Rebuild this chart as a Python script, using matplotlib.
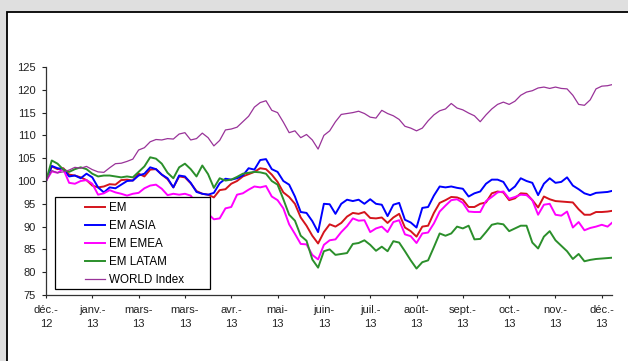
import matplotlib

matplotlib.use("Agg")
import matplotlib.pyplot as plt
import numpy as np
from matplotlib.patches import Rectangle

plt.rcParams["font.family"] = ["Liberation Sans", "DejaVu Sans"]

# month tick labels (category axis, one tick every ~22 trading days)
month_labels = ["déc.-\n12", "janv.-\n13", "mars-\n13", "mars-\n13", "avr.-\n13",
                "mai-\n13", "juin-\n13", "juil.-\n13", "août-\n13", "sept.-\n13",
                "oct.-\n13", "nov.-\n13", "déc.-\n13"]

# index levels, base 100, sampled every 1/8 of a tick interval
em = [100, 103.2, 102.6, 102.8, 101.4, 101.2, 100.8, 100.2, 99.0, 98.6,
      98.8, 99.3, 99.2, 100.2, 100.3, 100.1, 101.6, 101.0, 102.5, 102.6,
      101.4, 100.4, 98.6, 101.0, 100.8, 99.5, 97.8, 97.2, 97.0, 96.4,
      98.0, 98.2, 99.4, 100.0, 101.0, 101.5, 102.0, 102.8, 102.6, 101.4,
      99.8, 97.5, 96.5, 95.0, 92.0, 90.2, 88.0, 86.3, 88.8, 90.5,
      90.0, 90.8, 92.2, 93.0, 92.8, 93.2, 91.9, 91.8, 92.0, 90.8,
      92.0, 92.8, 89.8, 89.0, 87.8, 90.0, 90.2, 93.0, 95.2, 95.8,
      96.5, 96.4, 95.9, 94.3, 94.3, 95.0, 95.3, 97.3, 97.7, 97.5,
      95.8, 96.2, 97.3, 97.2, 95.8, 94.2, 96.6, 96.0, 95.6, 95.5,
      95.4, 95.3, 93.8, 92.6, 92.6, 93.2, 93.2, 93.3, 93.5]
em_asia = [100, 103.3, 102.8, 102.6, 101.0, 101.2, 100.6, 101.6, 100.8, 98.6,
           97.5, 98.6, 98.4, 99.2, 100.0, 100.1, 101.2, 101.6, 103.0, 102.6,
           101.4, 100.6, 98.6, 101.2, 101.0, 99.6, 97.6, 97.2, 97.0, 97.4,
           99.5, 100.5, 100.3, 100.6, 101.2, 102.8, 102.5, 104.6, 104.8, 102.6,
           102.0, 100.0, 99.2, 96.6, 93.2, 93.0, 91.2, 88.8, 95.0, 94.9,
           92.8, 95.0, 95.9, 95.6, 95.9, 95.0, 96.0, 95.0, 94.8, 92.3,
           94.8, 95.2, 91.5, 90.9, 89.8, 94.1, 94.3, 96.8, 98.8, 98.6,
           98.8, 98.5, 98.3, 96.6, 97.3, 97.7, 99.4, 100.3, 100.3, 99.8,
           97.8, 98.8, 100.6, 100.0, 99.6, 96.9, 99.4, 100.6, 99.6, 99.8,
           100.8, 99.0, 98.2, 97.3, 96.9, 97.4, 97.5, 97.6, 97.9]
em_emea = [100, 102.1, 101.8, 102.6, 99.6, 99.4, 100.0, 100.2, 99.4, 97.0,
           97.3, 98.0, 97.5, 97.2, 96.8, 97.2, 97.4, 98.4, 99.0, 99.2,
           98.3, 96.9, 97.2, 97.0, 97.2, 96.8, 95.0, 94.0, 92.8, 91.6,
           91.8, 94.0, 94.3, 97.0, 97.3, 98.1, 98.8, 98.6, 98.9, 96.6,
           95.8, 94.0, 90.5, 88.4, 86.2, 86.1, 83.8, 82.8, 86.0, 87.0,
           87.2, 88.8, 90.1, 91.8, 91.3, 91.4, 88.8, 89.6, 90.0, 88.8,
           91.0, 91.4, 88.3, 87.9, 86.4, 88.5, 88.7, 90.7, 93.3, 94.6,
           95.8, 96.0, 95.2, 93.3, 93.2, 93.2, 95.6, 96.5, 97.5, 97.7,
           96.1, 96.5, 97.0, 96.9, 95.8, 92.6, 94.8, 95.0, 92.6, 92.4,
           93.3, 89.8, 91.0, 89.2, 89.7, 90.0, 90.4, 90.0, 91.1]
em_latam = [100, 104.5, 103.8, 102.5, 102.0, 102.6, 103.0, 102.6, 101.6, 101.0,
            101.2, 101.2, 101.0, 100.8, 101.0, 100.8, 102.0, 103.2, 105.2, 104.9,
            103.8, 101.8, 100.6, 103.0, 103.8, 102.6, 101.0, 103.4, 101.5, 98.5,
            100.6, 100.1, 100.3, 100.9, 101.6, 101.8, 102.0, 101.9, 101.6, 100.0,
            99.2, 96.0, 92.6, 91.3, 88.0, 86.9, 82.8, 81.0, 84.6, 85.0,
            83.8, 84.0, 84.2, 86.2, 86.4, 87.0, 86.0, 84.7, 85.6, 84.6,
            86.8, 86.5, 84.6, 82.6, 80.8, 82.2, 82.6, 85.5, 88.5, 88.0,
            88.5, 90.0, 89.6, 90.2, 87.2, 87.3, 88.8, 90.4, 90.7, 90.5,
            89.0, 89.6, 90.2, 90.2, 86.5, 85.2, 87.8, 89.0, 87.0, 85.8,
            84.6, 82.9, 84.0, 82.4, 82.7, 82.9, 83.0, 83.1, 83.2]
world = [100, 102.3, 101.8, 102.0, 102.4, 103.0, 102.8, 103.2, 102.5, 102.0,
         101.9, 102.9, 103.8, 103.9, 104.3, 104.8, 106.8, 107.3, 108.6, 109.1,
         109.0, 109.3, 109.2, 110.3, 110.6, 109.0, 109.3, 110.5, 109.5, 107.7,
         108.9, 111.2, 111.4, 111.8, 113.0, 114.2, 116.2, 117.2, 117.6, 115.5,
         115.0, 112.9, 110.6, 111.0, 109.5, 110.2, 109.0, 107.0, 110.0, 111.0,
         113.0, 114.6, 114.8, 115.0, 115.3, 114.8, 114.0, 113.8, 115.5, 114.8,
         114.3, 113.5, 112.0, 111.6, 111.0, 111.6, 113.2, 114.5, 115.4, 115.8,
         117.0, 116.0, 115.6, 114.9, 114.3, 113.0, 114.5, 115.8, 116.8, 117.3,
         116.8, 117.5, 118.8, 119.5, 119.8, 120.4, 120.6, 120.3, 120.6, 120.3,
         120.2, 118.8, 116.8, 116.6, 117.8, 120.2, 120.8, 120.9, 121.2]

series = [
    ("EM", em, "#d4141c", 1.4),
    ("EM ASIA", em_asia, "#0000ff", 1.4),
    ("EM EMEA", em_emea, "#ff00ff", 1.4),
    ("EM LATAM", em_latam, "#2b8f2b", 1.4),
    ("WORLD Index", world, "#993399", 0.9),
]

fig = plt.figure(figsize=(6.28, 3.61), dpi=100)
fig.patch.set_facecolor("#dfdfdf")
fig.patches.append(Rectangle((0.0119, -0.05), 1.1, 0.05 + 0.968, transform=fig.transFigure,
                             facecolor="white", edgecolor="black", linewidth=1.3, zorder=-10))

ax = fig.add_axes([0.0732, 0.1828, 0.9013, 0.6316])
ax.set_facecolor("none")

x = np.arange(len(em)) / 8.0
for name, vals, color, lw in series:
    ax.plot(x, vals, color=color, lw=lw, label=name, zorder=2)

ax.set_xlim(0, 12.22)
ax.set_ylim(75, 125)
ax.set_yticks(np.arange(75, 126, 5))
ax.set_xticks(np.arange(len(month_labels)))
ax.set_xticklabels(month_labels, linespacing=1.55)
for s in ["top", "right"]:
    ax.spines[s].set_visible(False)
for s in ["left", "bottom"]:
    ax.spines[s].set_color("#333333")
    ax.spines[s].set_linewidth(0.9)
ax.tick_params(axis="y", direction="out", length=3.2, width=0.8, pad=4, labelsize=8, colors="#222222")
ax.tick_params(axis="x", direction="out", length=2.5, width=0.8, pad=4.5, labelsize=8, colors="#222222")

# legend box drawn as its own frame, entries placed inside
ax.add_patch(Rectangle((0.0159, 0.0263), 0.2739, 0.4035, transform=ax.transAxes,
                       facecolor="white", edgecolor="black", linewidth=0.9, zorder=4, clip_on=False))
leg = ax.legend(loc="upper left", bbox_to_anchor=(0.0689, 0.408), frameon=False,
                fontsize=8.4, handlelength=1.75, handletextpad=0.3, labelspacing=0.52,
                borderpad=0, borderaxespad=0)
leg.set_zorder(5)

fig.savefig("out.png", dpi=100)
